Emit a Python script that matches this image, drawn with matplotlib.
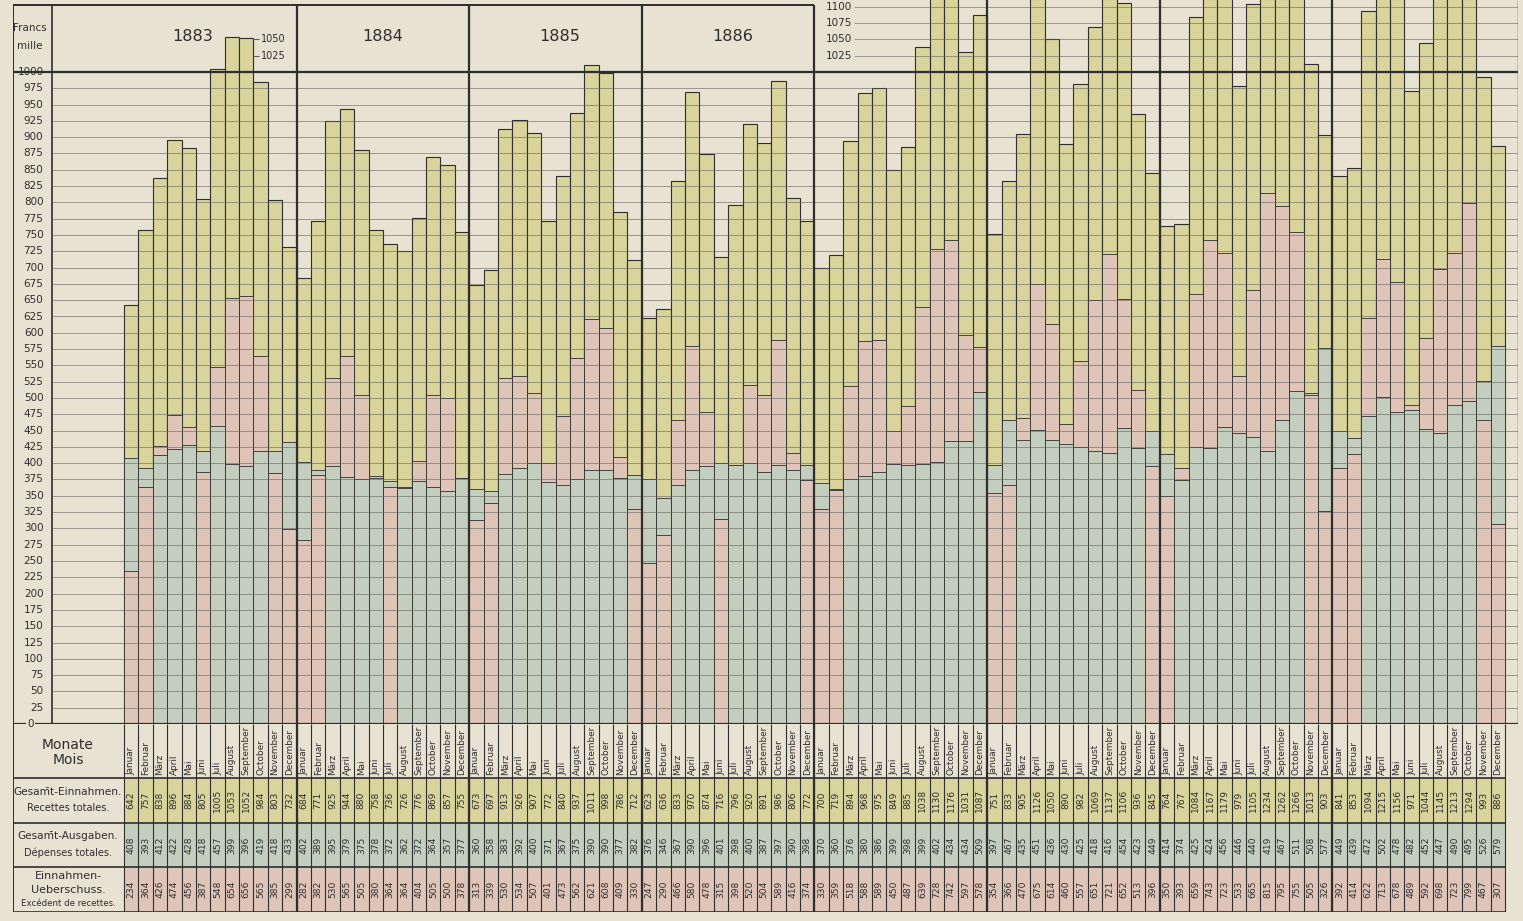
import numpy as np
import matplotlib.pyplot as plt

# ---- data (thousand francs, monthly) ----
YEARS = [1883, 1884, 1885, 1886, 1887, 1888, 1889, 1890]
MONTHS = ["Januar", "Februar", "März", "April", "Mai", "Juni", "Juli",
          "August", "September", "October", "November", "December"]

RECEIPTS = [
    642, 757, 838, 896, 884, 805, 1005, 1053, 1052, 984, 803, 732,
    684, 771, 925, 944, 880, 758, 736, 726, 776, 869, 857, 755,
    673, 697, 913, 926, 907, 772, 840, 937, 1011, 998, 786, 712,
    623, 636, 833, 970, 874, 716, 796, 920, 891, 986, 806, 772,
    700, 719, 894, 968, 975, 849, 885, 1038, 1130, 1176, 1031, 1087,
    751, 833, 905, 1126, 1050, 890, 982, 1069, 1137, 1106, 936, 845,
    764, 767, 1084, 1167, 1179, 979, 1105, 1234, 1262, 1266, 1013, 903,
    841, 853, 1094, 1215, 1156, 971, 1044, 1145, 1213, 1294, 993, 886,
]
EXPENSES = [
    408, 393, 412, 422, 428, 418, 457, 399, 396, 419, 418, 433,
    402, 389, 395, 379, 375, 378, 372, 362, 372, 364, 357, 377,
    360, 358, 383, 392, 400, 371, 367, 375, 390, 390, 377, 382,
    376, 346, 367, 390, 396, 401, 398, 400, 387, 397, 390, 398,
    370, 360, 376, 380, 386, 399, 398, 399, 402, 434, 434, 509,
    397, 467, 435, 451, 436, 430, 425, 418, 416, 454, 423, 449,
    414, 374, 425, 424, 456, 446, 440, 419, 467, 511, 508, 577,
    449, 439, 472, 502, 478, 482, 452, 447, 490, 495, 526, 579,
]
SURPLUS = [
    234, 364, 426, 474, 456, 387, 548, 654, 656, 565, 385, 299,
    282, 382, 530, 565, 505, 380, 364, 364, 404, 505, 500, 378,
    313, 339, 530, 534, 507, 401, 473, 562, 621, 608, 409, 330,
    247, 290, 466, 580, 478, 315, 398, 520, 504, 589, 416, 374,
    330, 359, 518, 588, 589, 450, 487, 639, 728, 742, 597, 578,
    354, 366, 470, 675, 614, 460, 557, 651, 721, 652, 513, 396,
    350, 393, 659, 743, 723, 533, 665, 815, 795, 755, 505, 326,
    392, 414, 622, 713, 678, 489, 592, 698, 723, 799, 467, 307,
]

# ---- style ----
PAPER = "#e7e2d2"
YELLOW = "#d8d49b"
PINK = "#dfc4b8"
GREEN = "#c3cebf"
INK = "#2e2e2e"
GRID = "#5e5e5a"

plt.rcParams["font.family"] = ["DejaVu Sans"]

W, H = 1523, 921
COL = (1505 - 124) / 96          # px per month column
PPU = 0.652                      # px per thousand francs
X_FRAME = (13 - 124) / COL
X_RIGHT = (1518 - 124) / COL
Y_TOP = 724 / PPU
Y_BOX = (724 - 5) / PPU

rec = np.array(RECEIPTS)
exp_ = np.array(EXPENSES)
sur = np.array(SURPLUS)
n = len(rec)
x = np.arange(n)

fig = plt.figure(figsize=(W / 100, H / 100), dpi=100)
fig.patch.set_facecolor(PAPER)

ax = fig.add_axes([13 / W, (H - 724) / H, (1518 - 13) / W, 724 / H])
tax = fig.add_axes([13 / W, (H - 912) / H, (1518 - 13) / W, 188 / H])
for a in (ax, tax):
    a.set_xlim(X_FRAME, X_RIGHT)
    a.set_facecolor("none")
    a.axis("off")
ax.set_ylim(0, Y_TOP)
tax.set_ylim(188, 0)

# ---- bars: receipts (yellow), with expenses / surplus overlaid from zero ----
upper = np.maximum(exp_, sur)
lower = np.minimum(exp_, sur)
up_col = [PINK if s >= e else GREEN for e, s in zip(exp_, sur)]
lo_col = [GREEN if s >= e else PINK for e, s in zip(exp_, sur)]
ax.bar(x, rec, width=1, align="edge", color=YELLOW, edgecolor=INK, lw=0.8, zorder=2)
ax.bar(x, upper, width=1, align="edge", color=up_col, edgecolor=INK, lw=0.6, zorder=2)
ax.bar(x, lower, width=1, align="edge", color=lo_col, edgecolor=INK, lw=0.6, zorder=2)

# ---- grid ----
ticks = np.arange(25, 1000, 25)
ax.hlines(ticks, -5, X_RIGHT, color=GRID, lw=0.65, alpha=0.6, zorder=3)
ax.hlines(1000, X_FRAME, X_RIGHT, color=INK, lw=1.6, zorder=3)
ax.hlines(0, X_FRAME, X_RIGHT, color=INK, lw=1.6, zorder=3)
high = np.arange(1025, 1101, 25)
ax.hlines(high, 50.75, X_RIGHT, color=GRID, lw=0.65, alpha=0.6, zorder=3)
for v in high:
    ax.text(50.6, v, str(v), ha="right", va="center", fontsize=7.5, color=INK)
for v in (1025, 1050):
    ax.hlines(v, 9, 9.4, color=GRID, lw=0.8, zorder=3)
    ax.text(9.5, v, str(v), ha="left", va="center", fontsize=7, color=INK)

for v in ticks:
    ax.text(-5.6, v, str(v), ha="right", va="center", fontsize=7.5, color=INK)
ax.text(-5.6, 1000, "1000", ha="right", va="center", fontsize=7.5, color=INK)
ax.text(-6.5, 0, "0", ha="center", va="center", fontsize=7.5, color=INK,
        bbox=dict(boxstyle="square,pad=0.15", fc=PAPER, ec="none"), zorder=5)
ax.text(-6.55, 1067, "Francs", ha="center", va="center", fontsize=7.5, color=INK)
ax.text(-6.55, 1040, "mille", ha="center", va="center", fontsize=7.5, color=INK)

# ---- frame and year boxes ----
ax.vlines(-5, 0, Y_BOX, color=INK, lw=1.2, zorder=4)
ax.vlines(X_FRAME, 0, Y_BOX, color=INK, lw=1.4, zorder=4)
ax.vlines(X_RIGHT - 0.02, 0, Y_TOP, color=INK, lw=1.0, zorder=4)
ax.hlines(Y_BOX, X_FRAME, 48, color=INK, lw=1.4, zorder=4)
for k in range(1, len(YEARS)):
    top = Y_BOX if k * 12 <= 48 else Y_TOP
    ax.vlines(k * 12, 0, top, color=INK, lw=1.6, zorder=4)
    tax.vlines(k * 12, 0, 188, color=INK, lw=1.6, zorder=4)

year_x = [4.75, 18, 30.3, 42.3]
for yr, xc in zip(YEARS[:4], year_x):
    ax.text(xc, 1054, str(yr), ha="center", va="center", fontsize=11.5, color=INK)

# ---- table ----
rows = [54, 99, 143, 188]
for (top, bot), vals, colr in zip(zip(rows[:-1], rows[1:]),
                                  [rec, exp_, sur], [YELLOW, GREEN, PINK]):
    tax.bar(x, bot - top, bottom=top, width=1, align="edge", color=colr,
            edgecolor="none", zorder=1)
    for i, v in enumerate(vals):
        tax.text(i + 0.5, (top + bot) / 2, str(v), rotation=90, ha="center",
                 va="center", fontsize=6.6, color=INK, zorder=3)
tax.hlines(rows, X_FRAME, 96, color=INK, lw=1.2, zorder=4)
tax.vlines(np.arange(0, n + 1), 0, 188, color=INK, lw=0.8, zorder=3)
tax.vlines(X_FRAME, 0, 188, color=INK, lw=1.4, zorder=4)

for i in x:
    tax.text(i + 0.5, 51, MONTHS[i % 12], rotation=90, ha="center", va="bottom",
             fontsize=6.4, color=INK)

lx = (68 - 124) / COL
tax.text(lx, 21, "Monate", ha="center", va="center", fontsize=10, color=INK)
tax.text(lx, 36, "Mois", ha="center", va="center", fontsize=10, color=INK)
tax.text(lx, 68, "Gesam\u0304t-Einnahmen.", ha="center", va="center", fontsize=7.6, color=INK)
tax.text(lx, 84, "Recettes totales.", ha="center", va="center", fontsize=7, color=INK)
tax.text(lx, 112, "Gesam\u0304t-Ausgaben.", ha="center", va="center", fontsize=7.6, color=INK)
tax.text(lx, 129, "Dépenses totales.", ha="center", va="center", fontsize=7, color=INK)
tax.text(lx, 152, "Einnahmen-", ha="center", va="center", fontsize=8, color=INK)
tax.text(lx, 166, "Ueberschuss.", ha="center", va="center", fontsize=8, color=INK)
tax.text(lx, 179, "Excédent de recettes.", ha="center", va="center", fontsize=6.2, color=INK)

fig.savefig("out.png", dpi=100, facecolor=PAPER)
